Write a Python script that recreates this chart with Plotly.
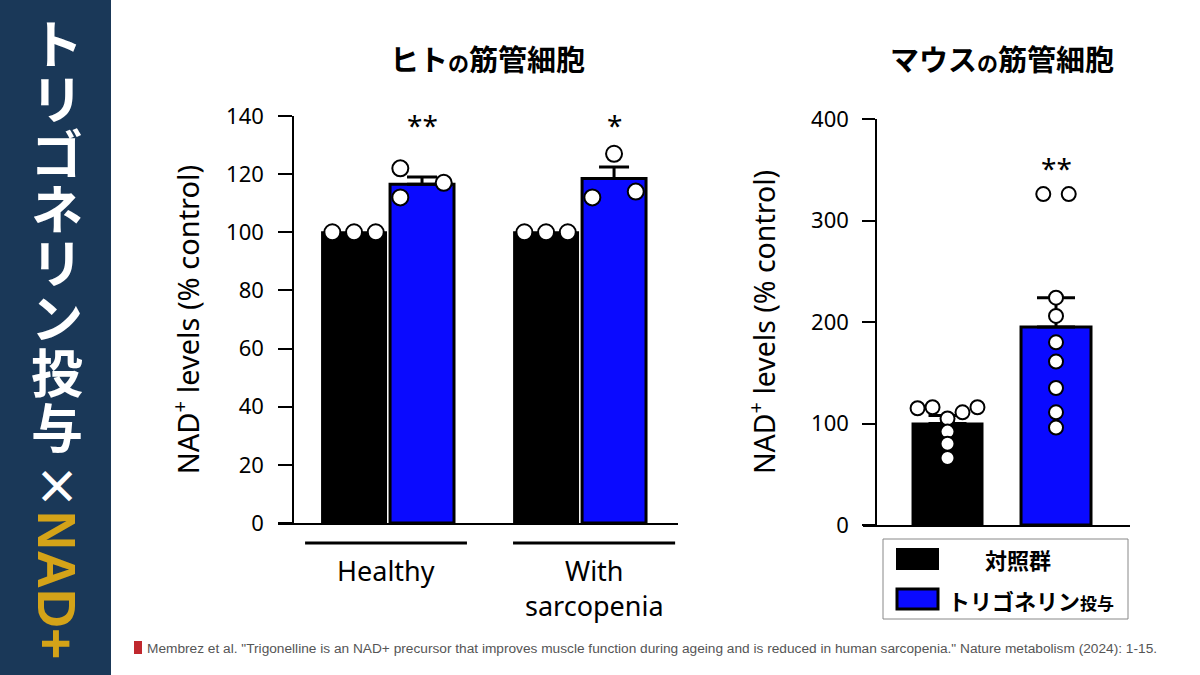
import plotly.graph_objects as go

# ---- data ----
series_names = ["対照群", "トリゴネリン投与"]

# human myotubes (% control)
human_groups = ["Healthy", "With<br>sarcopenia"]
human_control = [100, 100]
human_trig = [116.5, 118.5]
human_trig_sem = [2.5, 4.0]
human_control_pts = [[100, 100, 100], [100, 100, 100]]
human_trig_pts = [[122, 112, 117], [127, 112, 114]]
human_stars = ["**", "*"]

# mouse myotubes (% control)
mouse_control = 100
mouse_control_sem = 8
mouse_trig = 195
mouse_trig_sem = 29
mouse_control_pts = [115, 116, 105, 111, 116, 92, 80, 66]
mouse_trig_pts = [224, 206, 180, 161, 135, 111, 96, 326, 326]
mouse_star = "**"

left_ticks = [0, 20, 40, 60, 80, 100, 120, 140]
right_ticks = [0, 100, 200, 300, 400]

# ---- layout helpers (pixel -> paper) ----
W, H = 1200, 675
def px(x):
    return x / W
def py(y):
    return 1 - y / H

BLUE = "#0a0aff"
NAVY = "#1a3858"
GOLD = "#d4a318"
NUM_FONT = "Noto Sans"
JP_FONT = "Noto Sans CJK JP"

# beeswarm slot of each dot (horizontal jitter in slots)
human_ctrl_slots = [-1, 0, 1]
human_trig_slots = [[-1, -1, 1], [0, -1, 1]]
mouse_ctrl_slots = [-2, -1, 0, 1, 2, 0, 0, 0]
mouse_trig_slots = [0, 0, 0, 0, 0, 0, 0, -0.85, 0.85]

fig = go.Figure()

# ---------- left panel: human ----------
gx = [0, 1]
off = 0.177
bw = 0.333
slot_l = 0.113

fig.add_trace(go.Bar(
    x=[g - off for g in gx], y=human_control, width=bw, name=series_names[0],
    marker=dict(color="black", line=dict(color="black", width=2)),
    xaxis="x", yaxis="y", showlegend=False))
fig.add_trace(go.Bar(
    x=[g + off for g in gx], y=human_trig, width=bw, name=series_names[1],
    marker=dict(color=BLUE, line=dict(color="black", width=3)),
    error_y=dict(type="data", symmetric=False, array=human_trig_sem,
                 arrayminus=[0, 0], color="black", thickness=3, width=15),
    xaxis="x", yaxis="y", showlegend=False))

dx, dy = [], []
for g, pts in zip(gx, human_control_pts):
    for s, v in zip(human_ctrl_slots, pts):
        dx.append(g - off + s * slot_l)
        dy.append(v)
for g, pts, slots in zip(gx, human_trig_pts, human_trig_slots):
    for s, v in zip(slots, pts):
        dx.append(g + off + s * slot_l)
        dy.append(v)
fig.add_trace(go.Scatter(
    x=dx, y=dy, mode="markers", cliponaxis=False, showlegend=False,
    marker=dict(size=16, color="white", line=dict(color="black", width=2)),
    xaxis="x", yaxis="y"))

# ---------- right panel: mouse ----------
bw2 = 0.645
slot_r = 0.138
fig.add_trace(go.Bar(
    x=[0], y=[mouse_control], width=bw2, name=series_names[0],
    marker=dict(color="black", line=dict(color="black", width=2)),
    error_y=dict(type="data", symmetric=False, array=[mouse_control_sem],
                 arrayminus=[0], color="black", thickness=3, width=19),
    xaxis="x2", yaxis="y2", showlegend=False))
fig.add_trace(go.Bar(
    x=[1], y=[mouse_trig], width=bw2, name=series_names[1],
    marker=dict(color=BLUE, line=dict(color="black", width=3)),
    error_y=dict(type="data", symmetric=False, array=[mouse_trig_sem],
                 arrayminus=[0], color="black", thickness=3, width=19),
    xaxis="x2", yaxis="y2", showlegend=False))
fig.add_trace(go.Scatter(
    x=[s * slot_r for s in mouse_ctrl_slots] + [1 + s * slot_r for s in mouse_trig_slots],
    y=mouse_control_pts + mouse_trig_pts,
    mode="markers", cliponaxis=False, showlegend=False,
    marker=dict(size=14, color="white", line=dict(color="black", width=2)),
    xaxis="x2", yaxis="y2"))

axis_common = dict(showgrid=False, zeroline=False, showline=True,
                   linecolor="black", linewidth=1.5, automargin=False)

fig.update_layout(
    width=W, height=H,
    margin=dict(l=0, r=0, t=0, b=0, autoexpand=False),
    paper_bgcolor="white", plot_bgcolor="white",
    barmode="overlay", showlegend=False,
    font=dict(family=NUM_FONT, color="black"),
    xaxis=dict(domain=[px(278), px(678)], range=[-0.573, 1.510], anchor="y",
               showticklabels=False, ticks="", **axis_common),
    yaxis=dict(domain=[py(523), py(116)], range=[0, 140], anchor="free",
               position=px(293), tickvals=left_ticks, ticks="outside",
               ticklen=14, tickwidth=1.5, tickcolor="black", ticklabelstandoff=10,
               tickfont=dict(size=22, family=NUM_FONT),
               title=dict(text="NAD<sup>+</sup> levels (% control)",
                          font=dict(size=29, family=NUM_FONT), standoff=17),
               **axis_common),
    xaxis2=dict(domain=[px(863), px(1130)], range=[-0.779, 1.682], anchor="y2",
                showticklabels=False, ticks="", **axis_common),
    yaxis2=dict(domain=[py(525), py(119)], range=[0, 400], anchor="free",
                position=px(876), tickvals=right_ticks, ticks="outside",
                ticklen=13, tickwidth=1.5, tickcolor="black", ticklabelstandoff=9,
                tickfont=dict(size=22, family=NUM_FONT),
                title=dict(text="NAD<sup>+</sup> levels (% control)",
                           font=dict(size=28.5, family=NUM_FONT), standoff=26),
                **axis_common),
)

ann = []
shapes = []

def note(x, y, text, size, family=JP_FONT, color="black", xanchor="center",
         weight="normal", **kw):
    ann.append(dict(x=px(x), y=py(y), xref="paper", yref="paper", text=text,
                    xanchor=xanchor, yanchor="middle", showarrow=False,
                    font=dict(size=size, family=family, color=color, weight=weight), **kw))

# significance stars
for g, s in zip(gx, human_stars):
    ann.append(dict(x=g + off, y=137, xref="x", yref="y", text=s, showarrow=False,
                    xanchor="center", yanchor="middle",
                    font=dict(size=28, family=NUM_FONT)))
ann.append(dict(x=1, y=352, xref="x2", yref="y2", text=mouse_star, showarrow=False,
                xanchor="center", yanchor="middle",
                font=dict(size=28, family=NUM_FONT)))

# group underlines + labels (human), underline extent per group in x units
underline_span = [(-0.432, 0.411), (-0.349, 0.495)]
for g, lab, (a, b) in zip(gx, human_groups, underline_span):
    shapes.append(dict(type="line", xref="x", yref="paper", x0=g + a, x1=g + b,
                       y0=py(543), y1=py(543), line=dict(color="black", width=3)))
    ann.append(dict(x=g + (a + b) / 2, xref="x", y=py(550), yref="paper", yanchor="top",
                    xanchor="center", text=lab, showarrow=False,
                    font=dict(size=27, family=NUM_FONT)))

# panel titles
small = "<span style='font-size:21px'>の</span>"
note(487, 58, "ヒト" + small + "筋管細胞", 29, weight="bold")
note(1002, 58, "マウス" + small + "筋管細胞", 29, weight="bold")

# legend box
shapes.append(dict(type="rect", xref="paper", yref="paper",
                   x0=px(883), x1=px(1128), y0=py(619), y1=py(539),
                   line=dict(color="#888888", width=1), fillcolor="white"))
shapes.append(dict(type="rect", xref="paper", yref="paper",
                   x0=px(897), x1=px(938), y0=py(569), y1=py(549),
                   line=dict(color="black", width=2), fillcolor="black"))
shapes.append(dict(type="rect", xref="paper", yref="paper",
                   x0=px(897), x1=px(938), y0=py(609), y1=py(589),
                   line=dict(color="black", width=3), fillcolor=BLUE))
note(1018, 559, series_names[0], 22, weight="bold")
trig_label = series_names[1][:-2] + "<span style='font-size:17px'>" + series_names[1][-2:] + "</span>"
note(946, 600, trig_label, 22, xanchor="left", weight="bold")

# left sidebar: vertical title, one character per line
shapes.append(dict(type="rect", xref="paper", yref="paper", x0=0, x1=px(111),
                   y0=0, y1=1, line=dict(width=0), fillcolor=NAVY, layer="below"))
side_chars = "トリゴネリン投与×"
side_text = "<br>".join(
    "<span style='font-size:%dpx'>%s</span>" % (46 if ch == "×" else 52, ch) for ch in side_chars)
note(57, 260, side_text, 42.2, color="white", weight="bold")
note(57, 585, "NAD+", 54, family="Liberation Sans", color=GOLD, weight="bold",
     textangle=90)

# citation
shapes.append(dict(type="rect", xref="paper", yref="paper", x0=px(134), x1=px(142),
                   y0=py(654), y1=py(641), line=dict(width=0), fillcolor="#c0282e"))
note(145, 648, 'Membrez et al. "Trigonelline is an NAD+ precursor that improves muscle function '
               'during ageing and is reduced in human sarcopenia." Nature metabolism (2024): 1-15.',
     13.7, family="Liberation Sans", color="#555555", xanchor="left")

fig.update_layout(annotations=ann, shapes=shapes)

fig.write_html("out.html", config={"displayModeBar": False},
               post_script="document.body.style.margin='0';")
